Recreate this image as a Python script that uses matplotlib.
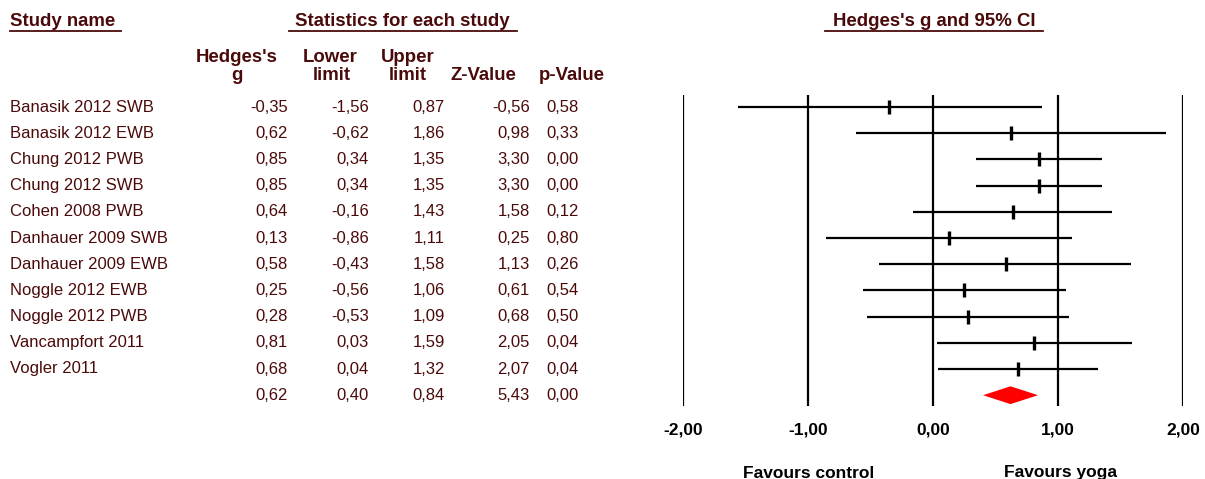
import numpy as np
import matplotlib
matplotlib.use("Agg")
import matplotlib.pyplot as plt

# study-level results (Hedges's g, 95% CI, Z, p)
studies = ["Banasik 2012 SWB", "Banasik 2012 EWB", "Chung 2012 PWB",
           "Chung 2012 SWB", "Cohen 2008 PWB", "Danhauer 2009 SWB",
           "Danhauer 2009 EWB", "Noggle 2012 EWB", "Noggle 2012 PWB",
           "Vancampfort 2011", "Vogler 2011"]
g = [-0.35, 0.62, 0.85, 0.85, 0.64, 0.13, 0.58, 0.25, 0.28, 0.81, 0.68]
lower = [-1.56, -0.62, 0.34, 0.34, -0.16, -0.86, -0.43, -0.56, -0.53, 0.03, 0.04]
upper = [0.87, 1.86, 1.35, 1.35, 1.43, 1.11, 1.58, 1.06, 1.09, 1.59, 1.32]
z_val = [-0.56, 0.98, 3.30, 3.30, 1.58, 0.25, 1.13, 0.61, 0.68, 2.05, 2.07]
p_val = [0.58, 0.33, 0.00, 0.00, 0.12, 0.80, 0.26, 0.54, 0.50, 0.04, 0.04]

# pooled estimate
pooled = [0.62, 0.40, 0.84, 5.43, 0.00]

ticks = [-2, -1, 0, 1, 2]

W, H = 1205, 479
TXT = "#4b0a0a"
FONT = "Liberation Sans"
plt.rcParams["font.family"] = [FONT, "DejaVu Sans"]


def fmt(v):
    return "{:.2f}".format(v).replace(".", ",")


fig = plt.figure(figsize=(W / 100, H / 100), dpi=100)

# table part, laid out in pixel coordinates
tab = fig.add_axes([0, 0, 1, 1])
tab.set_xlim(0, W)
tab.set_ylim(H, 0)
tab.axis("off")

row0, dy = 107, 26.2

# headers
hdr = dict(color=TXT, fontsize=13.4, fontweight="bold", va="center")
tab.text(10, 21, "Study name", ha="left", **hdr)
tab.plot([10, 121], [31, 31], color=TXT, lw=1.3)
tab.text(402, 21, "Statistics for each study", ha="center", **hdr)
tab.plot([289, 517], [31, 31], color=TXT, lw=1.3)
tab.text(934, 21, "Hedges's g and 95% CI", ha="center", **hdr)
tab.plot([825, 1043], [31, 31], color=TXT, lw=1.3)

tab.text(237, 57, "Hedges's", ha="center", **hdr)
tab.text(237, 75, "g", ha="center", **hdr)
tab.text(330, 57, "Lower", ha="center", **hdr)
tab.text(332, 75, "limit", ha="center", **hdr)
tab.text(408, 57, "Upper", ha="center", **hdr)
tab.text(408, 75, "limit", ha="center", **hdr)
tab.text(483, 75, "Z-Value", ha="center", **hdr)
tab.text(572, 75, "p-Value", ha="center", **hdr)

cell = dict(color=TXT, fontsize=12, va="center")
col_right = [288, 369, 445, 530, 579]
for i, name in enumerate(studies):
    y = row0 + i * dy
    tab.text(10, y, name, ha="left", **cell)
    for x, v in zip(col_right, [g[i], lower[i], upper[i], z_val[i], p_val[i]]):
        tab.text(x, y, fmt(v), ha="right", **cell)
y = row0 + len(studies) * dy
for x, v in zip(col_right, pooled):
    tab.text(x, y, fmt(v), ha="right", **cell)

# forest plot
top_px, bot_px = 95, 406
ax = fig.add_axes([683 / W, (H - bot_px) / H, 500 / W, (bot_px - top_px) / H])
ax.set_xlim(-2, 2)
ax.set_ylim((bot_px - row0) / dy, (top_px - row0) / dy)
ax.axis("off")

for t in ticks:
    ax.axvline(t, color="black", lw=1.6)

rows = np.arange(len(studies))
ax.hlines(rows, lower, upper, color="black", lw=1.6)
ax.plot(g, rows, ls="none", marker="|", ms=10, mew=2.4, color="black")

# pooled diamond
h = 0.34
yd = len(studies)
ax.fill([pooled[1], pooled[0], pooled[2], pooled[0]],
        [yd, yd - h, yd, yd + h], color="#ff0000", lw=0)

# tick labels and direction labels (bottom row runs off the page)
for t in ticks:
    tab.text(683 + (t + 2) * 125, 430, fmt(t), ha="center", va="center",
             fontsize=12.5, fontweight="bold", color="black")
tab.text(809, 473, "Favours control", ha="center", va="center",
         fontsize=12.5, fontweight="bold", color="black")
tab.text(1060, 473, "Favours yoga", ha="center", va="center",
         fontsize=12.5, fontweight="bold", color="black")

fig.savefig("out.png", dpi=100)
